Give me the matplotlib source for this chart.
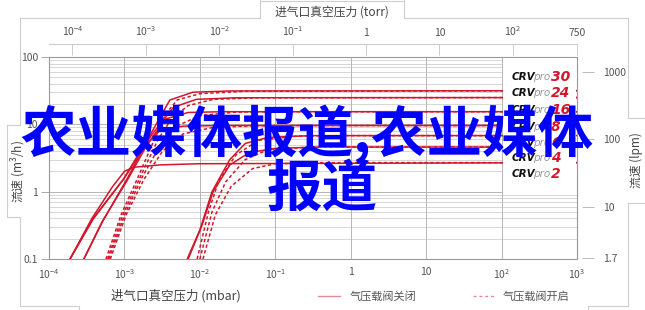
import numpy as np
import matplotlib.pyplot as plt
from matplotlib.patches import Rectangle

plt.rcParams['font.family'] = ['Noto Sans CJK SC', 'DejaVu Sans']
plt.rcParams['mathtext.default'] = 'regular'
plt.rcParams['axes.unicode_minus'] = False

# model names (CRVpro xx) and curves
models = ['30', '24', '16', '8', '6', '4', '2']

# gas ballast closed: inlet pressure (mbar) / flow (m3/h)
closed_p = [
    [1.9e-4, 3.7e-4, 9.6e-4, 2.2e-3, 4.0e-3, 8.1e-3, 2.5e-2, 1e3],
    [1.9e-4, 3.9e-4, 1.0e-3, 2.3e-3, 4.5e-3, 9.0e-3, 3.0e-2, 1e3],
    [2.9e-4, 5.0e-4, 1.1e-3, 2.0e-3, 3.5e-3, 7.0e-3, 2.0e-2, 1e3],
    [2.9e-4, 5.2e-4, 1.1e-3, 1.8e-3, 3.0e-3, 6.0e-3, 2.0e-2, 1e3],
    [6.8e-3, 1.0e-2, 1.45e-2, 2.5e-2, 4.0e-2, 8.0e-2, 0.3, 1e3],
    [7.0e-3, 1.05e-2, 1.5e-2, 2.5e-2, 4.5e-2, 1.0e-1, 0.4, 1e3],
    [1.9e-4, 3.7e-4, 7.0e-4, 1.0e-3, 1.3e-3, 3.0e-3, 1.0e-2, 1e3],
]
closed_q = [
    [0.1, 0.38, 1.5, 7.0, 23.0, 30.0, 31.3, 31.6],
    [0.1, 0.40, 1.6, 7.0, 18.0, 23.5, 24.8, 25.0],
    [0.1, 0.35, 1.5, 5.0, 12.0, 15.0, 15.4, 15.4],
    [0.1, 0.37, 1.6, 4.5, 8.3, 9.4, 9.6, 9.6],
    [0.1, 0.27, 1.0, 3.0, 5.2, 6.4, 6.8, 6.8],
    [0.1, 0.30, 1.0, 2.5, 3.8, 4.4, 4.6, 4.6],
    [0.1, 0.40, 1.2, 2.0, 2.3, 2.5, 2.6, 2.7],
]

# gas ballast open
open_p = [
    [5.7e-4, 9.0e-4, 1.5e-3, 2.5e-3, 3.5e-3, 5.0e-3, 1.0e-2, 4.0e-2, 1e3],
    [6.0e-4, 9.5e-4, 1.6e-3, 2.8e-3, 4.2e-3, 7.0e-3, 1.5e-2, 6.0e-2, 1e3],
    [6.2e-4, 1.0e-3, 1.7e-3, 3.0e-3, 5.0e-3, 1.0e-2, 3.0e-2, 1.0e-1, 1e3],
    [6.5e-4, 1.05e-3, 1.8e-3, 3.2e-3, 6.0e-3, 1.5e-2, 5.0e-2, 1.5e-1, 1e3],
    [9.2e-3, 1.3e-2, 1.8e-2, 3.0e-2, 6.0e-2, 2.0e-1, 1.0, 3.0, 1e3],
    [1.0e-2, 1.45e-2, 2.2e-2, 4.0e-2, 8.0e-2, 3.0e-1, 1.0, 3.0, 1e3],
    [1.1e-2, 1.6e-2, 2.6e-2, 5.0e-2, 1.0e-1, 4.0e-1, 1.0, 3.0, 1e3],
]
open_q = [
    [0.1, 0.45, 1.6, 6.0, 14.0, 23.0, 28.5, 31.0, 31.6],
    [0.1, 0.45, 1.6, 6.0, 12.0, 19.0, 23.5, 24.8, 25.0],
    [0.1, 0.45, 1.6, 5.0, 9.5, 13.5, 15.2, 15.4, 15.4],
    [0.1, 0.45, 1.5, 4.0, 7.2, 9.0, 9.5, 9.6, 9.6],
    [0.1, 0.5, 1.5, 3.5, 5.8, 6.7, 6.8, 6.8, 6.8],
    [0.1, 0.5, 1.4, 3.0, 4.2, 4.6, 4.6, 4.6, 4.6],
    [0.1, 0.45, 1.2, 2.2, 2.6, 2.7, 2.7, 2.7, 2.7],
]

mbar_ticks = [1e-4, 1e-3, 1e-2, 1e-1, 1, 10, 100, 1000]
mbar_labels = ['$10^{-4}$', '$10^{-3}$', '$10^{-2}$', '$10^{-1}$', '1', '10', '$10^{2}$', '$10^{3}$']
torr_ticks = [1e-4, 1e-3, 1e-2, 1e-1, 1, 10, 100, 750]
torr_labels = ['$10^{-4}$', '$10^{-3}$', '$10^{-2}$', '$10^{-1}$', '1', '10', '$10^{2}$', '750']
flow_ticks = [0.1, 1, 10, 100]
flow_labels = ['0.1', '1', '10', '100']
lpm_ticks = [1.7, 10, 100, 1000]
lpm_labels = ['1.7', '10', '100', '1000']

red = '#d3162b'
grey_txt = '#555555'
W, H = 645, 310

fig = plt.figure(figsize=(6.45, 3.10), dpi=100)
ax = fig.add_axes([49 / W, (H - 259) / H, 528 / W, 202 / H])
ax.set_xscale('log')
ax.set_yscale('log')
ax.set_xlim(1e-4, 1e3)
ax.set_ylim(0.1, 100)

# grid: horizontal lines stop at 10^2 in the upper part (legend area)
for dec in [0.1, 1, 10]:
    for k in range(1, 10):
        yv = dec * k
        if yv >= 100:
            continue
        c = '#b5b5b5' if k == 1 else '#d6d6d6'
        xmax = 1e3 if yv < 1.0 else 1e2
        ax.hlines(yv, 1e-4, xmax, colors=c, lw=0.7, zorder=0)
for xv in mbar_ticks[1:-1]:
    ax.axvline(xv, color='#b5b5b5', lw=0.7, zorder=0)

for p, q in zip(closed_p, closed_q):
    ax.plot(p, q, color=red, lw=1.1, zorder=3)
for p, q in zip(open_p, open_q):
    ax.plot(p, q, color=red, lw=1.1, ls=(0, (2.2, 1.6)), zorder=3)

ax.set_xticks(mbar_ticks)
ax.set_xticklabels(mbar_labels)
ax.set_yticks(flow_ticks)
ax.set_yticklabels(flow_labels)
ax.minorticks_off()
ax.tick_params(axis='x', length=0, pad=6, labelsize=7.5, colors=grey_txt)
ax.tick_params(axis='y', length=6, width=0.7, pad=2, labelsize=7.5,
               colors=grey_txt)
ax.tick_params(axis='y', color='#aaaaaa')
for s in ax.spines.values():
    s.set_color('#999999')
    s.set_linewidth(0.8)

# right axis in lpm
sec = ax.secondary_yaxis((588 - 49) / 528, functions=(lambda y: y * 1000 / 60,
                                                      lambda y: y * 60 / 1000))
sec.set_yticks(lpm_ticks)
sec.set_yticklabels(lpm_labels)
sec.minorticks_off()
sec.tick_params(direction='inout', length=9, width=0.7, color='#bbbbbb',
                labelsize=7.5, labelcolor=grey_txt, pad=6)
sec.spines['right'].set_visible(False)

# top axis in torr
axt = fig.add_axes([49 / W, (H - 52) / H, 528 / W, 8 / H])
axt.set_xscale('log')
axt.set_xlim(10 ** -4.32, 750)
axt.set_yticks([])
axt.set_xticks(torr_ticks)
axt.set_xticklabels(torr_labels)
axt.minorticks_off()
axt.xaxis.tick_top()
axt.tick_params(axis='x', direction='in', length=8, width=0.7, color='#cccccc',
                labelsize=7.5, labelcolor=grey_txt, pad=4)
for k in ['left', 'right', 'bottom']:
    axt.spines[k].set_visible(False)
axt.spines['top'].set_color('#cccccc')
axt.patch.set_visible(False)

# overlay for frame, labels and legend (pixel coordinates)
ov = fig.add_axes([0, 0, 1, 1])
ov.set_xlim(0, W)
ov.set_ylim(H, 0)
ov.axis('off')
ov.set_zorder(5)
fc = '#cfcfcf'
frame = [
    ([20, 260], [18, 18]), ([260, 260], [18, 0]), ([404, 404], [0, 18]),
    ([404, 628], [18, 18]), ([628, 628], [18, 118]), ([628, 645], [118, 118]),
    ([628, 645], [203, 203]), ([628, 628], [203, 306]), ([628, 588], [306, 306]),
    ([588, 588], [306, 310]), ([20, 20], [18, 125]), ([20, 7], [125, 125]),
    ([7, 7], [125, 217]), ([7, 20], [217, 217]), ([20, 20], [217, 306]),
    ([20, 79], [306, 306]), ([79, 79], [306, 310]), ([260, 404], [0.5, 0.5]),
]
for xs, ys in frame:
    ov.plot(xs, ys, color=fc, lw=0.8)

ov.text(332, 12, '进气口真空压力 (torr)', ha='center', va='center', fontsize=8.5,
        color='#444444')
ov.text(176, 296, '进气口真空压力 (mbar)', ha='center', va='center', fontsize=9,
        color='#444444')
ov.text(19, 172, '流速 (m$^3$/h)', ha='center', va='center', rotation=90,
        fontsize=8.5, color='#444444')
ov.text(636, 160, '流速 (lpm)', ha='center', va='center', rotation=90,
        fontsize=8.5, color='#444444')

# bottom legend
ov.plot([318, 340], [296, 296], color='#e58a94', lw=1)
ov.text(350, 296, '气压载阀关闭', ha='left', va='center', fontsize=8, color='#555555')
ov.plot([473, 495], [296, 296], color='#e58a94', lw=1, ls=(0, (2.2, 2)))
ov.text(503, 296, '气压载阀开启', ha='left', va='center', fontsize=8, color='#555555')

# model labels in the legend area
ov.add_patch(Rectangle((503, 58), 73, 128, facecolor='white', edgecolor='none',
                       zorder=0))
row_y = [77, 93, 110, 127, 143, 158, 174]
for m, yy in zip(models, row_y):
    ov.add_patch(Rectangle((510, yy - 6), 59, 12, facecolor='white',
                           edgecolor='none', zorder=1))
    ov.text(512, yy, 'CRV', ha='left', va='center', fontsize=7.5,
            fontweight='bold', style='italic', color='#111111',
            family='DejaVu Sans', zorder=2)
    ov.text(533, yy, 'pro', ha='left', va='center', fontsize=7.5,
            style='italic', color='#999999', family='DejaVu Sans', zorder=2)
    ov.text(551, yy, m, ha='left', va='center', fontsize=10,
            fontweight='bold', style='italic', color=red,
            family='DejaVu Sans', zorder=2)

# watermark
ov.text(307, 134, '农业媒体报道,农业媒体', ha='center', va='center', fontsize=40,
        fontweight='bold', color='#0000ff', zorder=10)
ov.text(322, 190, '报道', ha='center', va='center', fontsize=40,
        fontweight='bold', color='#0000ff', zorder=10)

fig.savefig('out.png', dpi=100)
